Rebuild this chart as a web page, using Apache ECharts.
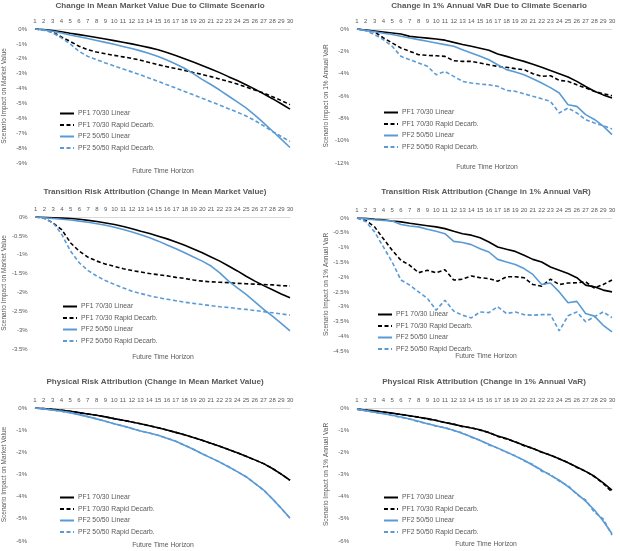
<!DOCTYPE html>
<html>
<head>
<meta charset="utf-8">
<script src="https://cdn.jsdelivr.net/npm/echarts@6/dist/echarts.min.js"></script>
<style>
  html, body { margin: 0; padding: 0; background: #fff; }
  #chart { width: 620px; height: 551px; }
</style>
</head>
<body>
<div id="chart"></div>
<script>
// future time horizon (years)
const years = ['1','2','3','4','5','6','7','8','9','10','11','12','13','14','15',
  '16','17','18','19','20','21','22','23','24','25','26','27','28','29','30'];

const seriesNames = ['PF1 70/30 Linear', 'PF1 70/30 Rapid Decarb.', 'PF2 50/50 Linear', 'PF2 50/50 Rapid Decarb.'];

// change in mean market value due to climate scenario (%)
const mvTotalPf1Lin = [0,-0.03,-0.1,-0.19,-0.29,-0.38,-0.47,-0.57,-0.67,-0.78,-0.89,-1.0,-1.12,-1.25,-1.39,-1.58,-1.78,-2.0,-2.22,-2.45,-2.68,-2.93,-3.2,-3.46,-3.74,-4.04,-4.36,-4.68,-5.02,-5.38];
const mvTotalPf1Rap = [0,-0.06,-0.2,-0.54,-0.83,-1.16,-1.39,-1.55,-1.66,-1.77,-1.87,-1.97,-2.1,-2.25,-2.4,-2.53,-2.66,-2.78,-2.92,-3.05,-3.2,-3.36,-3.52,-3.7,-3.9,-4.1,-4.3,-4.55,-4.8,-5.08];
const mvTotalPf2Lin = [0,-0.06,-0.15,-0.27,-0.4,-0.52,-0.64,-0.77,-0.9,-1.03,-1.17,-1.31,-1.47,-1.64,-1.84,-2.08,-2.35,-2.64,-3.0,-3.38,-3.73,-4.1,-4.5,-4.9,-5.3,-5.78,-6.3,-6.85,-7.4,-7.96];
const mvTotalPf2Rap = [0,-0.08,-0.25,-0.6,-1.0,-1.5,-1.84,-2.06,-2.28,-2.48,-2.68,-2.88,-3.08,-3.3,-3.52,-3.74,-3.96,-4.19,-4.42,-4.65,-4.88,-5.11,-5.35,-5.59,-5.84,-6.15,-6.5,-6.88,-7.22,-7.55];

// change in 1% annual VaR due to climate scenario (%)
const varTotalPf1Lin = [0,-0.1,-0.18,-0.27,-0.36,-0.45,-0.66,-0.74,-0.82,-0.9,-1.0,-1.2,-1.38,-1.55,-1.72,-1.9,-2.24,-2.45,-2.68,-2.9,-3.15,-3.43,-3.72,-4.0,-4.3,-4.69,-5.15,-5.58,-5.9,-6.18];
const varTotalPf1Rap = [0,-0.1,-0.25,-0.8,-1.25,-1.7,-2.0,-2.3,-2.36,-2.4,-2.45,-2.84,-2.9,-2.9,-3.04,-3.2,-3.35,-3.43,-3.55,-3.64,-4.0,-4.24,-4.18,-4.6,-4.69,-5.0,-5.28,-5.58,-5.8,-5.97];
const varTotalPf2Lin = [0,-0.12,-0.25,-0.38,-0.5,-0.65,-0.8,-0.95,-1.1,-1.25,-1.4,-1.55,-1.85,-2.15,-2.45,-2.75,-3.2,-3.64,-3.85,-4.1,-4.45,-4.84,-5.25,-5.73,-6.78,-6.93,-7.67,-8.1,-8.7,-9.46];
const varTotalPf2Rap = [0,-0.15,-0.5,-0.95,-1.55,-2.45,-2.75,-3.04,-3.34,-4.1,-3.8,-4.24,-4.69,-4.84,-4.93,-5.0,-5.13,-5.5,-5.58,-5.8,-6.03,-6.24,-6.48,-7.52,-7.07,-7.52,-8.12,-8.42,-8.66,-8.95];

// transition risk attribution, mean market value (%)
const mvTransPf1Lin = [0,-0.01,-0.02,-0.03,-0.04,-0.06,-0.09,-0.12,-0.16,-0.2,-0.25,-0.31,-0.38,-0.44,-0.51,-0.58,-0.66,-0.75,-0.85,-0.95,-1.06,-1.17,-1.3,-1.43,-1.57,-1.7,-1.82,-1.93,-2.04,-2.14];
const mvTransPf1Rap = [0,-0.03,-0.16,-0.34,-0.69,-0.91,-1.07,-1.17,-1.25,-1.31,-1.37,-1.42,-1.46,-1.5,-1.53,-1.56,-1.6,-1.63,-1.67,-1.7,-1.72,-1.73,-1.74,-1.76,-1.77,-1.78,-1.79,-1.8,-1.82,-1.83];
const mvTransPf2Lin = [0,-0.02,-0.04,-0.06,-0.08,-0.11,-0.14,-0.18,-0.22,-0.27,-0.33,-0.4,-0.47,-0.55,-0.64,-0.74,-0.84,-0.95,-1.06,-1.17,-1.3,-1.48,-1.7,-1.88,-2.05,-2.25,-2.45,-2.63,-2.82,-3.02];
const mvTransPf2Rap = [0,-0.04,-0.15,-0.47,-0.91,-1.22,-1.42,-1.57,-1.69,-1.79,-1.88,-1.97,-2.03,-2.09,-2.14,-2.18,-2.22,-2.26,-2.29,-2.32,-2.35,-2.38,-2.4,-2.43,-2.45,-2.48,-2.51,-2.54,-2.57,-2.6];

// transition risk attribution, 1% annual VaR (%)
const varTransPf1Lin = [0,-0.01,-0.04,-0.06,-0.1,-0.13,-0.18,-0.22,-0.26,-0.3,-0.36,-0.45,-0.53,-0.58,-0.67,-0.81,-0.98,-1.06,-1.13,-1.26,-1.4,-1.49,-1.66,-1.77,-1.88,-2.02,-2.27,-2.33,-2.44,-2.5];
const varTransPf1Rap = [0,-0.08,-0.3,-0.7,-1.09,-1.43,-1.6,-1.85,-1.77,-1.85,-1.75,-2.1,-2.07,-1.96,-2.02,-2.05,-2.14,-1.99,-1.99,-2.02,-2.25,-2.31,-2.07,-2.25,-2.2,-2.19,-2.16,-2.37,-2.25,-2.1];
const varTransPf2Lin = [0,-0.03,-0.06,-0.08,-0.1,-0.22,-0.27,-0.3,-0.38,-0.45,-0.53,-0.79,-0.83,-0.9,-1.04,-1.15,-1.4,-1.49,-1.57,-1.71,-1.91,-2.25,-2.2,-2.5,-2.87,-2.82,-3.23,-3.32,-3.63,-3.85];
const varTransPf2Rap = [0,-0.12,-0.47,-0.98,-1.49,-2.1,-2.27,-2.5,-2.72,-3.12,-2.78,-3.15,-3.29,-3.38,-3.18,-3.2,-3.0,-3.23,-3.18,-3.27,-3.29,-3.27,-3.27,-3.82,-3.31,-3.18,-3.51,-3.34,-3.18,-3.37];

// physical risk attribution, mean market value (%)
const mvPhysPf1Lin = [0,-0.03,-0.06,-0.1,-0.15,-0.21,-0.27,-0.33,-0.4,-0.48,-0.55,-0.63,-0.71,-0.8,-0.89,-0.99,-1.1,-1.21,-1.33,-1.46,-1.59,-1.73,-1.87,-2.02,-2.18,-2.34,-2.51,-2.73,-2.98,-3.26];
const mvPhysPf1Rap = [0,-0.03,-0.06,-0.1,-0.15,-0.21,-0.27,-0.33,-0.4,-0.48,-0.55,-0.63,-0.71,-0.8,-0.89,-0.99,-1.1,-1.21,-1.33,-1.46,-1.59,-1.73,-1.87,-2.02,-2.18,-2.34,-2.51,-2.73,-2.98,-3.26];
const mvPhysPf2Lin = [0,-0.04,-0.09,-0.15,-0.21,-0.3,-0.39,-0.49,-0.6,-0.71,-0.81,-0.92,-1.04,-1.13,-1.23,-1.36,-1.5,-1.68,-1.86,-2.06,-2.25,-2.44,-2.65,-2.87,-3.1,-3.4,-3.7,-4.1,-4.52,-4.97];
const mvPhysPf2Rap = [0,-0.04,-0.09,-0.15,-0.21,-0.3,-0.39,-0.49,-0.6,-0.71,-0.81,-0.92,-1.04,-1.13,-1.23,-1.36,-1.5,-1.68,-1.86,-2.06,-2.25,-2.44,-2.65,-2.87,-3.1,-3.4,-3.7,-4.1,-4.52,-4.97];

// physical risk attribution, 1% annual VaR (%)
const varPhysPf1Lin = [-0.05,-0.09,-0.13,-0.18,-0.23,-0.29,-0.35,-0.42,-0.48,-0.56,-0.65,-0.74,-0.82,-0.9,-0.98,-1.12,-1.26,-1.38,-1.53,-1.68,-1.83,-1.98,-2.13,-2.29,-2.47,-2.66,-2.86,-3.08,-3.38,-3.71];
const varPhysPf1Rap = [-0.05,-0.1,-0.14,-0.18,-0.24,-0.29,-0.36,-0.41,-0.5,-0.55,-0.66,-0.72,-0.84,-0.89,-1.0,-1.1,-1.28,-1.4,-1.52,-1.7,-1.82,-2.0,-2.12,-2.3,-2.46,-2.68,-2.85,-3.1,-3.4,-3.79];
const varPhysPf2Lin = [-0.05,-0.12,-0.19,-0.26,-0.33,-0.41,-0.5,-0.6,-0.71,-0.8,-0.9,-1.0,-1.15,-1.3,-1.47,-1.64,-1.81,-1.98,-2.17,-2.36,-2.58,-2.8,-3.04,-3.26,-3.55,-3.86,-4.2,-4.6,-5.1,-5.67];
const varPhysPf2Rap = [-0.05,-0.13,-0.2,-0.25,-0.34,-0.42,-0.5,-0.62,-0.7,-0.82,-0.88,-1.02,-1.12,-1.32,-1.45,-1.67,-1.8,-2.0,-2.15,-2.38,-2.55,-2.85,-3.0,-3.3,-3.5,-3.9,-4.15,-4.7,-5.0,-5.74];

const panelTitles = [
  'Change in Mean Market Value Due to Climate Scenario',
  'Change in 1% Annual VaR Due to Climate Scenario',
  'Transition Risk Attribution (Change in Mean Market Value)',
  'Transition Risk Attribution (Change in 1% Annual VaR)',
  'Physical Risk Attribution (Change in Mean Market Value)',
  'Physical Risk Attribution (Change in 1% Annual VaR)'
];
const yNames = [
  'Scenario Impact on Market Value', 'Scenario Impact on 1% Annual VaR',
  'Scenario Impact on Market Value', 'Scenario Impact on 1% Annual VaR',
  'Scenario Impact on Market Value', 'Scenario Impact on 1% Annual VaR'
];
const yMins = [-9, -12, -3.5, -4.5, -6, -6];
const yIntervals = [1, 2, 0.5, 0.5, 1, 1];

const panelData = [
  [mvTotalPf1Lin, mvTotalPf1Rap, mvTotalPf2Lin, mvTotalPf2Rap],
  [varTotalPf1Lin, varTotalPf1Rap, varTotalPf2Lin, varTotalPf2Rap],
  [mvTransPf1Lin, mvTransPf1Rap, mvTransPf2Lin, mvTransPf2Rap],
  [varTransPf1Lin, varTransPf1Rap, varTransPf2Lin, varTransPf2Rap],
  [mvPhysPf1Lin, mvPhysPf1Rap, mvPhysPf2Lin, mvPhysPf2Rap],
  [varPhysPf1Lin, varPhysPf1Rap, varPhysPf2Lin, varPhysPf2Rap]
];

// layout of each panel (px)
const panels = [
  { grid: [34, 29, 256, 134], title: [160, 2], xname: [163, 168], legend: [59, 110] },
  { grid: [357, 29, 255, 134], title: [489, 2], xname: [487, 164], legend: [383, 109] },
  { grid: [34, 217, 256, 132], title: [155, 188], xname: [163, 354], legend: [62, 303] },
  { grid: [357, 218, 255, 133], title: [486, 188], xname: [486, 353], legend: [377, 311] },
  { grid: [34, 408, 256, 133], title: [155, 378], xname: [163, 542], legend: [59, 494] },
  { grid: [357, 408, 255, 133], title: [484, 378], xname: [486, 541], legend: [383, 494] }
];

const FONT = 'Liberation Sans';
const TXT = '#595959';
const BLUE = '#5b9bd5';
const colors = ['#000000', '#000000', BLUE, BLUE];
const dashed = [false, true, false, true];

const option = {
  animation: false,
  textStyle: { fontFamily: FONT },
  title: [],
  legend: [],
  grid: [],
  xAxis: [],
  yAxis: [],
  series: []
};

panels.forEach((p, i) => {
  option.grid.push({ left: p.grid[0], top: p.grid[1], width: p.grid[2], height: p.grid[3] });
  option.title.push({
    text: panelTitles[i], left: p.title[0], top: p.title[1], textAlign: 'center', padding: 0,
    textStyle: { fontFamily: FONT, fontSize: 8.1, fontWeight: 'bold', color: TXT }
  });
  option.title.push({
    text: 'Future Time Horizon', left: p.xname[0], top: p.xname[1], textAlign: 'center', padding: 0,
    textStyle: { fontFamily: FONT, fontSize: 6.8, fontWeight: 'normal', color: TXT }
  });
  option.legend.push({
    orient: 'vertical', left: p.legend[0], top: p.legend[1], padding: 0,
    itemWidth: 14, itemHeight: 6, itemGap: 4.5, selectedMode: false,
    data: seriesNames,
    itemStyle: { opacity: 0 },
    textStyle: { fontFamily: FONT, fontSize: 6.8, color: TXT, padding: [0, 0, 0, -1] }
  });
  option.xAxis.push({
    type: 'category', gridIndex: i, data: years, boundaryGap: false, position: 'top',
    axisLine: { onZero: false, lineStyle: { color: '#d9d9d9', width: 1 } },
    axisTick: { show: false },
    axisLabel: { interval: 0, fontSize: 6, color: TXT, margin: 5, fontFamily: FONT }
  });
  option.yAxis.push({
    type: 'value', gridIndex: i, min: yMins[i], max: 0, interval: yIntervals[i],
    name: yNames[i], nameLocation: 'middle', nameGap: 27,
    nameTextStyle: { fontSize: 6.5, color: TXT, fontFamily: FONT },
    axisLine: { show: false }, axisTick: { show: false }, splitLine: { show: false },
    axisLabel: { fontSize: 6, color: TXT, margin: 8, fontFamily: FONT, formatter: v => v + '%' }
  });
  panelData[i].forEach((vals, k) => {
    option.series.push({
      name: seriesNames[k], type: 'line', xAxisIndex: i, yAxisIndex: i,
      data: vals, symbol: 'none', smooth: false,
      lineStyle: { color: colors[k], width: 1.6, type: dashed[k] ? [4, 2.5] : 'solid' },
      itemStyle: { color: colors[k] }
    });
  });
});

const chart = echarts.init(document.getElementById('chart'));
chart.setOption(option);
</script>
</body>
</html>
